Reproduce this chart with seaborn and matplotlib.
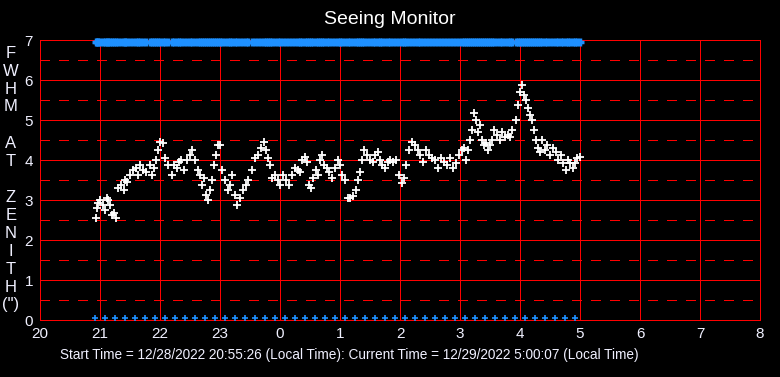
import numpy as np
import pandas as pd
import matplotlib
matplotlib.use("Agg")
from matplotlib import pyplot as plt
import seaborn as sns

# seeing readings, hours since midnight of the start day (24+ = next day)
hours = [
    20.93, 20.95, 20.97, 21.00, 21.05, 21.08, 21.12, 21.13, 21.17, 21.20,
    21.23, 21.27, 21.30, 21.35, 21.40, 21.42, 21.45, 21.50, 21.55, 21.60,
    21.63, 21.67, 21.72, 21.77, 21.83, 21.87, 21.90, 21.93, 21.97, 22.00,
    22.05, 22.08, 22.13, 22.20, 22.23, 22.28, 22.32, 22.35, 22.40, 22.45,
    22.50, 22.53, 22.58, 22.63, 22.67, 22.70, 22.73, 22.77, 22.80, 22.83,
    22.87, 22.90, 22.93, 22.97, 23.00, 23.03, 23.08, 23.13, 23.17, 23.20,
    23.25, 23.28, 23.33, 23.38, 23.43, 23.47, 23.53, 23.58, 23.63, 23.68,
    23.73, 23.77, 23.80, 23.83, 23.87, 23.92, 23.97, 24.00, 24.05, 24.10,
    24.15, 24.20, 24.25, 24.30, 24.33, 24.37, 24.42, 24.45, 24.48, 24.52,
    24.55, 24.60, 24.63, 24.67, 24.70, 24.73, 24.78, 24.82, 24.87, 24.92,
    24.97, 25.00, 25.03, 25.08, 25.13, 25.17, 25.22, 25.27, 25.30, 25.33,
    25.37, 25.40, 25.45, 25.50, 25.55, 25.58, 25.63, 25.67, 25.70, 25.75,
    25.80, 25.83, 25.88, 25.93, 25.98, 26.03, 26.07, 26.10, 26.15, 26.20,
    26.25, 26.30, 26.33, 26.38, 26.43, 26.48, 26.53, 26.58, 26.63, 26.68,
    26.73, 26.78, 26.83, 26.88, 26.93, 26.98, 27.03, 27.07, 27.10, 27.13,
    27.17, 27.20, 27.23, 27.27, 27.30, 27.33, 27.37, 27.40, 27.43, 27.47,
    27.50, 27.53, 27.57, 27.62, 27.67, 27.70, 27.75, 27.80, 27.83, 27.87,
    27.93, 27.97, 28.00, 28.03, 28.07, 28.10, 28.13, 28.17, 28.20, 28.23,
    28.27, 28.30, 28.33, 28.37, 28.42, 28.45, 28.50, 28.55, 28.60, 28.63,
    28.68, 28.72, 28.77, 28.80, 28.83, 28.88, 28.92, 28.95, 29.00,
]
fwhm = [
    2.55, 2.80, 2.92, 3.00, 2.88, 2.75, 3.05, 3.00, 2.88, 2.62,
    2.68, 2.55, 3.30, 3.38, 3.25, 3.50, 3.45, 3.62, 3.75, 3.80,
    3.62, 3.88, 3.75, 3.70, 3.88, 3.62, 3.80, 4.00, 4.25, 4.45,
    4.42, 4.05, 3.88, 3.62, 3.88, 3.80, 3.95, 4.00, 3.75, 4.00,
    4.12, 4.25, 4.00, 3.75, 3.62, 3.38, 3.55, 3.12, 3.00, 3.25,
    3.50, 3.88, 4.12, 4.38, 4.38, 3.75, 3.50, 3.25, 3.38, 3.62,
    3.12, 2.88, 3.05, 3.25, 3.38, 3.50, 3.75, 4.05, 4.12, 4.30,
    4.45, 4.25, 4.05, 3.88, 3.55, 3.62, 3.50, 3.38, 3.62, 3.50,
    3.38, 3.62, 3.80, 3.75, 3.70, 4.00, 4.08, 3.95, 3.38, 3.30,
    3.55, 3.75, 3.62, 4.00, 4.12, 3.88, 3.80, 3.70, 3.55, 3.80,
    4.00, 3.88, 3.62, 3.50, 3.05, 3.05, 3.10, 3.25, 3.50, 3.70,
    4.00, 4.25, 4.12, 4.00, 3.95, 4.12, 4.20, 4.00, 3.88, 3.80,
    3.95, 4.00, 3.95, 4.00, 3.62, 3.42, 3.55, 3.88, 4.25, 4.45,
    4.38, 4.25, 4.12, 3.95, 4.25, 4.12, 4.05, 4.00, 3.80, 4.05,
    3.95, 3.88, 4.05, 3.80, 3.92, 4.12, 4.25, 4.30, 4.00, 4.25,
    4.50, 4.75, 5.18, 5.00, 4.70, 4.88, 4.50, 4.38, 4.42, 4.25,
    4.38, 4.50, 4.75, 4.62, 4.50, 4.70, 4.58, 4.62, 4.58, 4.75,
    5.00, 5.38, 5.70, 5.88, 5.62, 5.50, 5.30, 5.12, 5.00, 4.75,
    4.50, 4.30, 4.20, 4.50, 4.25, 4.38, 4.12, 4.30, 4.20, 4.00,
    4.12, 3.92, 3.75, 4.00, 3.92, 3.80, 3.92, 4.05, 4.08,
]

# 10-minute status ticks along the bottom
status_hours = [20.917 + i / 6 for i in range(49)]

hour_ticks = list(range(20, 33))
hour_labels = [str(h % 24) for h in hour_ticks]
fwhm_ticks = list(range(0, 8))

ylabel_lines = ["F", "W", "H", "M", "", "A", "T", "", "Z", "E", "N", "I", "T", "H", "(\")"]
title = "Seeing Monitor"
footer = ("Start Time = 12/28/2022 20:55:26 (Local Time): "
          "Current Time = 12/29/2022 5:00:07 (Local Time)")

df = pd.DataFrame({"hour": hours, "fwhm": fwhm})

sns.set_theme(style="dark")
plt.rcParams["font.family"] = ["Liberation Sans", "DejaVu Sans"]

fig = plt.figure(figsize=(7.8, 3.77), dpi=100, facecolor="black")
ax = fig.add_axes([40 / 780, 57 / 377, 720 / 780, 280 / 377])
ax.set_facecolor("black")

red = "#ff0000"
lw = 0.72  # one pixel at 100 dpi
for y in np.arange(0.5, 7, 1.0):
    ax.axhline(y, color=red, lw=lw, ls=(0, (10, 10)), antialiased=False, zorder=1)
for y in fwhm_ticks[1:-1]:
    ax.axhline(y, color=red, lw=lw, antialiased=False, zorder=1)
for x in hour_ticks[1:-1]:
    ax.axvline(x, color=red, lw=lw, antialiased=False, zorder=1)

sns.scatterplot(data=df, x="hour", y="fwhm", marker="+", color="white",
                s=40, linewidth=1.3, ax=ax, zorder=3)
ax.plot(status_hours, [0.05] * len(status_hours), "+", color="#1e90ff",
        ms=5, mew=1.2, clip_on=False, zorder=4)
ax.plot(df["hour"], [6.95] * len(df), "+", color="#1e90ff",
        ms=6, mew=2.5, clip_on=False, zorder=4)

ax.set_xlim(20, 32)
ax.set_ylim(0, 7)
ax.set_xticks(hour_ticks)
ax.set_xticklabels(hour_labels)
ax.set_yticks(fwhm_ticks)
ax.tick_params(colors="#f0f0ff", labelsize=11, length=0, pad=5)
ax.set_xlabel("")
ax.set_ylabel("")
for s in ax.spines.values():
    s.set_color(red)
    s.set_linewidth(lw)
    s.set_antialiased(False)
    s.set_visible(True)

fig.text(0.5, 1 - 20 / 377, title, color="white", fontsize=14,
         ha="center", va="center")
fig.text(349 / 780, 1 - 355 / 377, footer, color="#f0f0ff", fontsize=9.8,
         ha="center", va="center")
for i, ch in enumerate(ylabel_lines):
    if ch:
        fig.text(11 / 780, 1 - (53 + i * 18) / 377, ch, color="#f0f0ff",
                 fontsize=12, ha="center", va="center")

fig.savefig("out.png", dpi=100, facecolor="black")
